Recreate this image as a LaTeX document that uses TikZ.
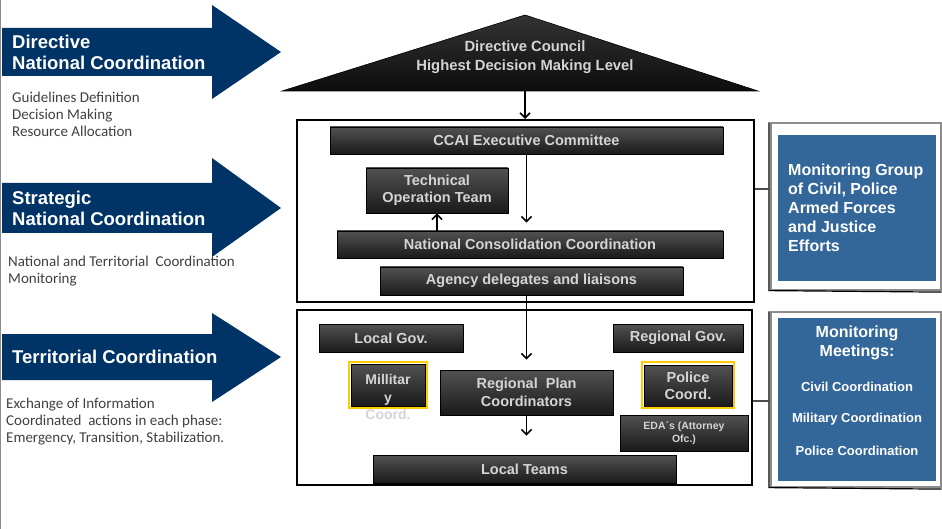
\documentclass[tikz,border=0pt]{standalone}
\usepackage{fontspec}
\setmainfont{Liberation Sans}
\newfontfamily\subfont{Carlito}
\usetikzlibrary{arrows.meta}
\definecolor{navy}{RGB}{0,51,102}
\definecolor{monblue}{RGB}{51,102,153}
\definecolor{boxtext}{RGB}{212,212,212}
\definecolor{ygold}{RGB}{255,204,0}
\definecolor{subgray}{RGB}{64,64,64}
\begin{document}
\begin{tikzpicture}[x=1pt,y=-1pt,
  gbox/.style={draw=black, line width=0.8pt, top color=black!68, middle color=black!42, bottom color=black!90,
    text=boxtext, font=\bfseries\fontsize{14.5}{17}\selectfont, align=center, inner sep=0pt},
  frame/.style={draw=black, line width=2pt, inner sep=0pt},
  arr/.style={-{Straight Barb[length=5pt,width=10pt,line width=1.6pt]}, line width=1.6pt},
  navyarrow/.style={fill=navy},
  headtext/.style={anchor=west, inner sep=0pt, text=white, align=left, font=\bfseries\fontsize{18.5}{21}\selectfont},
  subtext/.style={anchor=west, inner sep=0pt, text=subgray, align=left, font=\subfont\fontsize{15}{17}\selectfont},
  monbox/.style={fill=monblue, inner sep=0pt},
  monframe/.style={draw=black!45, line width=1.2pt, inner sep=0pt},
  montext/.style={text=white, inner sep=0pt, font=\bfseries\fontsize{16}{19}\selectfont},
  monsmall/.style={text=white, inner sep=0pt, font=\bfseries\fontsize{13}{15}\selectfont},
  connector/.style={draw=black!70, line width=1.5pt}]
\useasboundingbox (0,0) rectangle (942,529);
% left border
\draw[black!45, line width=1pt] (0.5,0) -- (0.5,529);

% left arrows
\fill[navyarrow] (2,28) -- (212,28) -- (212,5) -- (281,52) -- (212,99) -- (212,76) -- (2,76) -- cycle;
\fill[navyarrow] (2,183) -- (212,183) -- (212,158) -- (281,208) -- (212,257) -- (212,233) -- (2,233) -- cycle;
\fill[navyarrow] (2,334) -- (212,334) -- (212,313) -- (281,357) -- (212,402) -- (212,380) -- (2,380) -- cycle;

\node[headtext] (h1) at (12,52.5) {Directive\\National Coordination};
\node[headtext] (h2) at (12,208.5) {Strategic\\National Coordination};
\node[headtext] (h3) at (12,357) {Territorial Coordination};

\node[subtext] (s1) at (12,114) {Guidelines Definition\\Decision Making\\Resource Allocation};
\node[subtext] (s2) at (8,271) {National and Territorial\ \ Coordination\\Monitoring};
\node[subtext] (s3) at (6,421.5) {Exchange of Information\\Coordinated\ \ actions in each phase:\\Emergency, Transition, Stabilization.};

% triangle
\shade[top color=black!80, middle color=black!50, bottom color=black!95, draw=black, line width=0.6pt]
  (282,91) -- (525,15) -- (758,91) -- cycle;
\node[text=boxtext, align=center, inner sep=0pt, font=\bfseries\fontsize{14.8}{19}\selectfont] (council) at (525,57.5)
  {Directive Council\\Highest Decision Making Level};
\coordinate (tribase) at (525,91);

% main frames
\node[frame, minimum width=457, minimum height=182] (upper) at (525.5,211) {};
\node[frame, minimum width=455, minimum height=175] (lower) at (524.5,397.5) {};

% upper boxes
\node[gbox, minimum width=393, minimum height=27] (ccai) at (526.5,140.5) {CCAI Executive Committee};
\node[gbox, minimum width=142, minimum height=45] (tech) at (437,190.5) {Technical\\Operation Team};
\node[gbox, minimum width=386, minimum height=27] (ncc) at (530,244.5) {National Consolidation Coordination};
\node[gbox, minimum width=303, minimum height=28] (agency) at (531.5,281) {Agency delegates and liaisons};

% lower boxes
\node[gbox, minimum width=144, minimum height=28] (localgov) at (391,338) {Local Gov.};
\node[gbox, minimum width=130, minimum height=28] (reggov) at (678,338) {Regional Gov.};
\node[gbox, minimum width=74, minimum height=42] (mil) at (388,385) {};
\draw[ygold, line width=2pt] ([shift={(-2,-2)}]mil.north west) rectangle ([shift={(2,2)}]mil.south east);
\node[text=boxtext, align=center, inner sep=0pt, font=\bfseries\fontsize{14}{17.5}\selectfont] (milt) at (388,397) {Millitar\\y\\Coord.};
\node[gbox, minimum width=173, minimum height=45, font=\bfseries\fontsize{14.5}{18}\selectfont] (rpc) at (526.5,392.5) {Regional\ \ Plan\\Coordinators};
\node[gbox, minimum width=88, minimum height=42, font=\bfseries\fontsize{14.5}{17}\selectfont] (police) at (688,386) {Police\\Coord.};
\draw[ygold, line width=2pt] ([shift={(-2,-3)}]police.north west) rectangle ([shift={(2,1)}]police.south east);
\node[gbox, minimum width=128, minimum height=36, font=\bfseries\fontsize{10.5}{12.5}\selectfont] (eda) at (684,433) {EDA´s (Attorney\\Ofc.)};
\node[gbox, minimum width=303, minimum height=28] (lteams) at (524.5,469) {Local Teams};

% arrows
\draw[arr] (tribase) -- (upper.north -| tribase);
\draw[arr, shorten >=8pt] (ccai.south) -- (ccai.south |- ncc.north);
\draw[arr] (tech.south |- ncc.north) -- (tech.south);
\draw[arr, shorten >=10pt] (rpc.north |- agency.south) -- (rpc.north);
\draw[arr, shorten >=19pt] (rpc.south) -- (rpc.south |- lteams.north);

% monitoring boxes
\node[monframe, minimum width=170, minimum height=167] (mon1f) at (856,206.5) {};
\draw[black, line width=1.2pt] ([xshift=-1.5pt]mon1f.north west) -- ([xshift=-1.5pt]mon1f.south west) -- ([yshift=-1.5pt]mon1f.south east);
\node[monbox, minimum width=158, minimum height=146] (mon1) at (857,208) {};
\node[montext, anchor=west, align=left] (mon1t) at (788,208) {Monitoring Group\\of Civil, Police\\Armed Forces\\and Justice\\Efforts};

\node[monframe, minimum width=170, minimum height=175] (mon2f) at (856,399.5) {};
\draw[black, line width=1.2pt] ([xshift=-1.5pt]mon2f.north west) -- ([xshift=-1.5pt]mon2f.south west) -- ([yshift=-1.5pt]mon2f.south east);
\node[monbox, minimum width=158, minimum height=163] (mon2) at (857,399.5) {};
\node[montext, align=center] (mon2t) at (857,342.5) {Monitoring\\Meetings:};
\node[monsmall] (mm1) at (857,387) {Civil Coordination};
\node[monsmall] (mm2) at (857,419) {Military Coordination};
\node[monsmall] (mm3) at (857,451) {Police Coordination};

% connectors
\coordinate (c1) at (760,189);
\coordinate (c2) at (760,401);
\draw[connector] (upper.east |- c1) -- (mon1f.west |- c1);
\draw[connector] (lower.east |- c2) -- (mon2f.west |- c2);
\end{tikzpicture}
\end{document}
